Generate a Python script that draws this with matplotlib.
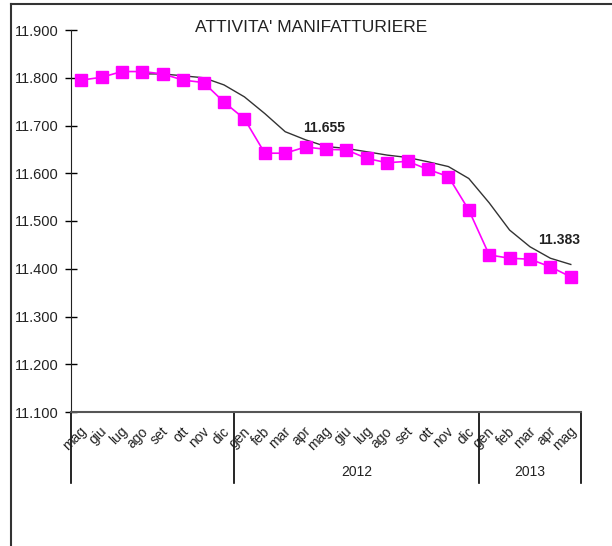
import matplotlib.pyplot as plt
from matplotlib.lines import Line2D
import matplotlib.transforms as mtransforms

plt.rcParams["font.family"] = ["Liberation Sans", "DejaVu Sans"]

months = ["mag", "giu", "lug", "ago", "set", "ott", "nov", "dic",
          "gen", "feb", "mar", "apr", "mag", "giu", "lug", "ago", "set", "ott", "nov", "dic",
          "gen", "feb", "mar", "apr", "mag"]
years = ["2012", "2013"]

# monthly values (pink markers)
occupati = [11.795, 11.801, 11.813, 11.813, 11.808, 11.795, 11.790, 11.749,
            11.714, 11.642, 11.642, 11.655, 11.650, 11.649, 11.631, 11.622,
            11.625, 11.608, 11.593, 11.523, 11.429, 11.422, 11.420, 11.404, 11.383]

# trend line, starts at ago 2011
trend_start = 3
trend = [11.808, 11.808, 11.804, 11.800, 11.785, 11.760, 11.725, 11.687,
         11.670, 11.656, 11.652, 11.645, 11.638, 11.633, 11.624, 11.614,
         11.589, 11.538, 11.481, 11.446, 11.422, 11.409]

labelled = {11: "11.655", 24: "11.383"}

W, H = 612, 546
fig = plt.figure(figsize=(W / 100, H / 100), dpi=100)
ax = fig.add_axes([71 / W, 1 - 412 / H, (581 - 71) / W, (412 - 30) / H])

x = list(range(len(months)))
ax.plot(x, occupati, color="#ff00ff", lw=1.2, marker="s", ms=8.5,
        mec="#ff00ff", mfc="#ff00ff", zorder=3)
ax.plot(range(trend_start, trend_start + len(trend)), trend, color="#333333",
        lw=1.0, zorder=2)

ax.text(11.9, 11.680, labelled[11], fontsize=10, fontweight="bold",
        ha="center", va="bottom", color="#222222")
ax.text(23.45, 11.445, labelled[24], fontsize=10, fontweight="bold",
        ha="center", va="bottom", color="#222222")

ax.set_xlim(-0.5, len(months) - 0.5)
ax.set_ylim(11.1, 11.9)
yt = [11.1 + 0.1 * i for i in range(9)]
ax.set_yticks(yt)
ax.set_yticklabels([f"{v:.3f}" for v in yt], fontsize=10.5, color="#222222")
ax.tick_params(axis="y", direction="inout", length=8, width=1, pad=5)
ax.set_xticks([])
for s in ["top", "right"]:
    ax.spines[s].set_visible(False)
ax.spines["left"].set_color("#222222")
ax.spines["bottom"].set_color("#555555")
ax.spines["bottom"].set_linewidth(1.5)

trans = mtransforms.blended_transform_factory(ax.transData, ax.transAxes)
sep_bottom = -(483 - 412) / (412 - 30)
for sx in [-0.5, 7.5, 19.5, 24.5]:
    ax.add_line(Line2D([sx, sx], [0, sep_bottom], transform=trans,
                       color="black", lw=1.2, clip_on=False))

for i, m in enumerate(months):
    ax.text(i + 0.15, -0.045, m, transform=trans, rotation=45,
            rotation_mode="anchor", ha="right", va="center", fontsize=10,
            color="#222222")

year_y = -(472 - 412) / (412 - 30)
ax.text(13.5, year_y, years[0], transform=trans, ha="center", va="center",
        fontsize=10, color="#222222")
ax.text(22, year_y, years[1], transform=trans, ha="center", va="center",
        fontsize=10, color="#222222")

fig.text(311 / W, 1 - 28 / H, "ATTIVITA' MANIFATTURIERE", ha="center",
         va="center", fontsize=12.5, color="#222222")

# outer chart border (left and top visible)
fig.add_artist(Line2D([11 / W, 11 / W], [0, 1 - 4 / H], transform=fig.transFigure,
                      color="#333333", lw=1.5))
fig.add_artist(Line2D([11 / W, 1], [1 - 4 / H, 1 - 4 / H], transform=fig.transFigure,
                      color="#333333", lw=1.5))

fig.savefig("out.png", dpi=100)
